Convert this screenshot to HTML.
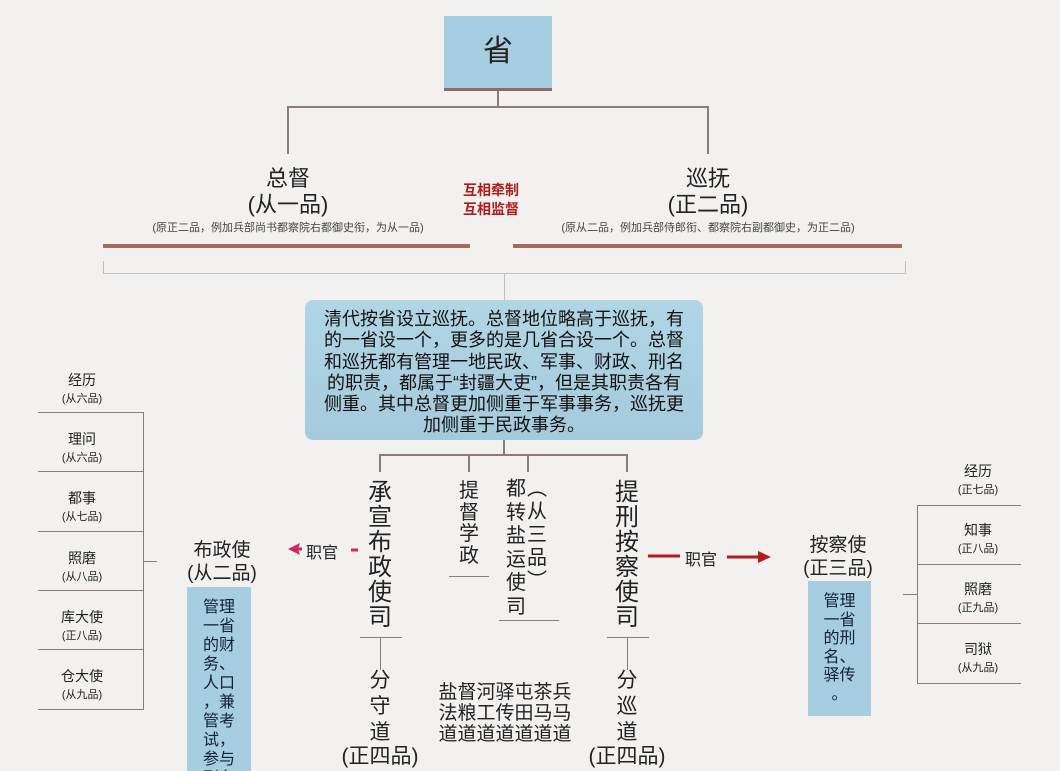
<!DOCTYPE html>
<html style="width:1060px;height:771px;overflow:hidden"><head><meta charset="utf-8"><style>
body{margin:0;width:1060px;height:771px;overflow:hidden;background:#f2f1f0;position:relative;font-family:"Liberation Sans","Noto Sans CJK SC",sans-serif;color:#222}
.a{position:absolute}
.l{position:absolute;background:#8c7c78}
.t{position:absolute;text-align:center;white-space:nowrap}
.v{position:absolute;text-align:center;width:30px}
</style></head><body>
<div class="a" style="left:444px;top:16px;width:108px;height:72px;background:#a6cde0;border-bottom:3px solid #8e6a66"></div>
<div class="t" style="left:444px;top:32px;width:108px;font-size:30px;line-height:40px">省</div>
<div class="l" style="left:497px;top:91px;width:2px;height:16px"></div>
<div class="l" style="left:287px;top:106px;width:422px;height:2px"></div>
<div class="l" style="left:287px;top:106px;width:2px;height:48px"></div>
<div class="l" style="left:707px;top:106px;width:2px;height:48px"></div>

<div class="t" style="left:188px;top:166px;width:200px;font-size:22px;line-height:26px">总督<br>(从一品)</div>
<div class="t" style="left:108px;top:219px;width:360px;font-size:11px;color:#444">(原正二品，例加兵部尚书都察院右都御史衔，为从一品)</div>
<div class="t" style="left:608px;top:166px;width:200px;font-size:22px;line-height:26px">巡抚<br>(正二品)</div>
<div class="t" style="left:518px;top:219px;width:380px;font-size:11px;color:#444">(原从二品，例加兵部侍郎衔、都察院右副都御史，为正二品)</div>
<div class="t" style="left:441px;top:181px;width:100px;font-size:14px;line-height:19px;color:#b01a1a;font-weight:bold">互相牵制<br>互相监督</div>
<div class="a" style="left:103px;top:244px;width:367px;height:4px;background:#a56a60"></div>
<div class="a" style="left:513px;top:244px;width:389px;height:4px;background:#a56a60"></div>
<div class="a" style="left:103px;top:273px;width:802px;height:1px;background:#b8c0c8"></div>
<div class="a" style="left:103px;top:261px;width:1px;height:13px;background:#b8c0c8"></div>
<div class="a" style="left:905px;top:261px;width:1px;height:13px;background:#b8c0c8"></div>
<div class="a" style="left:504px;top:273px;width:1px;height:28px;background:#b8c0c8"></div>

<div class="a" style="left:305px;top:300px;width:398px;height:140px;border-radius:8px;background:linear-gradient(#b0d6e6,#a4cadc)"></div>
<div class="t" style="left:305px;top:309px;width:398px;font-size:18px;line-height:21.3px;color:#111">清代按省设立巡抚。总督地位略高于巡抚，有<br>的一省设一个，更多的是几省合设一个。总督<br>和巡抚都有管理一地民政、军事、财政、刑名<br>的职责，都属于“封疆大吏”，但是其职责各有<br>侧重。其中总督更加侧重于军事事务，巡抚更<br>加侧重于民政事务。</div>

<div class="l" style="left:503px;top:440px;width:2px;height:15px"></div>
<div class="l" style="left:380px;top:454px;width:248px;height:2px"></div>
<div class="l" style="left:379px;top:454px;width:2px;height:18px"></div>
<div class="l" style="left:468px;top:454px;width:2px;height:18px"></div>
<div class="l" style="left:527px;top:454px;width:2px;height:18px"></div>
<div class="l" style="left:626px;top:454px;width:2px;height:18px"></div>

<div class="v" style="left:365px;top:480px;font-size:24px;line-height:25px">承<br>宣<br>布<br>政<br>使<br>司</div>
<div class="v" style="left:454px;top:481px;font-size:20px;line-height:21.5px">提<br>督<br>学<br>政</div>
<div class="l" style="left:449px;top:576px;width:40px;height:1px"></div>
<div class="v" style="left:501px;top:478px;font-size:20px;line-height:23.6px">都<br>转<br>盐<br>运<br>使<br>司</div>
<div class="v" style="left:522px;top:478px;font-size:20px;line-height:23px">︵<br>从<br>三<br>品<br>︶</div>
<div class="l" style="left:499px;top:620px;width:60px;height:1px"></div>
<div class="v" style="left:612px;top:480px;font-size:24px;line-height:25px">提<br>刑<br>按<br>察<br>使<br>司</div>

<div class="l" style="left:360px;top:637px;width:42px;height:1px"></div>
<div class="l" style="left:380px;top:637px;width:1px;height:33px"></div>
<div class="l" style="left:607px;top:637px;width:42px;height:1px"></div>
<div class="l" style="left:627px;top:637px;width:1px;height:33px"></div>
<div class="v" style="left:365px;top:668px;font-size:21px;line-height:26px">分<br>守<br>道</div>
<div class="t" style="left:330px;top:744px;width:100px;font-size:21px;line-height:26px">(正四品)<br><span style="font-size:14px">分管民政</span></div>
<div class="v" style="left:612px;top:668px;font-size:21px;line-height:26px">分<br>巡<br>道</div>
<div class="t" style="left:577px;top:744px;width:100px;font-size:21px;line-height:26px">(正四品)<br><span style="font-size:14px">分管刑名</span></div>
<div class="t" style="left:430px;top:682px;width:150px;font-size:19px;line-height:21px">盐督河驿屯茶兵<br>法粮工传田马马<br>道道道道道道道</div>

<svg class="a" style="left:0;top:0" width="1060" height="771">
<polygon points="288,549 300,543 298,549 300,555" fill="#d6245e"/>
<line x1="297" y1="549" x2="302" y2="549" stroke="#d6245e" stroke-width="3"/>
<line x1="351" y1="550" x2="358" y2="550" stroke="#d6245e" stroke-width="3"/>
<line x1="648" y1="556" x2="680" y2="556" stroke="#b51c1c" stroke-width="3"/>
<line x1="727" y1="557" x2="760" y2="557" stroke="#b51c1c" stroke-width="3"/>
<polygon points="771,557 758,551 758,563" fill="#b51c1c"/>
</svg>
<div class="t" style="left:306px;top:539px;font-size:16px">职官</div>
<div class="t" style="left:685px;top:546px;font-size:16px">职官</div>

<div class="t" style="left:172px;top:539px;width:100px;font-size:19px;line-height:23px">布政使<br>(从二品)</div>
<div class="a" style="left:187px;top:587px;width:64px;height:190px;background:#a6cde0"></div>
<div class="t" style="left:187px;top:598px;width:64px;font-size:16px;line-height:19px;color:#123">管理<br>一省<br>的财<br>务、<br>人口<br>，兼<br>管考<br>试，<br>参与<br>刑名</div>
<div class="t" style="left:788px;top:534px;width:100px;font-size:19px;line-height:23px">按察使<br>(正三品)</div>
<div class="a" style="left:808px;top:581px;width:63px;height:135px;background:#a6cde0"></div>
<div class="t" style="left:808px;top:593px;width:63px;font-size:16px;line-height:18.5px;color:#123">管理<br>一省<br>的刑<br>名、<br>驿传<br>。</div>

<div class="l" style="left:38px;top:412px;width:106px;height:1px"></div>
<div class="l" style="left:38px;top:471px;width:106px;height:1px"></div>
<div class="l" style="left:38px;top:531px;width:106px;height:1px"></div>
<div class="l" style="left:38px;top:590px;width:106px;height:1px"></div>
<div class="l" style="left:38px;top:649px;width:106px;height:1px"></div>
<div class="l" style="left:38px;top:709px;width:106px;height:1px"></div>
<div class="l" style="left:143px;top:412px;width:1px;height:298px"></div>
<div class="l" style="left:143px;top:561px;width:14px;height:1px"></div>
<div class="t" style="left:32px;top:372px;width:100px;font-size:14px;line-height:17px">经历<br><span style="font-size:11px">(从六品)</span></div>
<div class="t" style="left:32px;top:431px;width:100px;font-size:14px;line-height:17px">理问<br><span style="font-size:11px">(从六品)</span></div>
<div class="t" style="left:32px;top:490px;width:100px;font-size:14px;line-height:17px">都事<br><span style="font-size:11px">(从七品)</span></div>
<div class="t" style="left:32px;top:550px;width:100px;font-size:14px;line-height:17px">照磨<br><span style="font-size:11px">(从八品)</span></div>
<div class="t" style="left:32px;top:609px;width:100px;font-size:14px;line-height:17px">库大使<br><span style="font-size:11px">(正八品)</span></div>
<div class="t" style="left:32px;top:668px;width:100px;font-size:14px;line-height:17px">仓大使<br><span style="font-size:11px">(从九品)</span></div>

<div class="l" style="left:917px;top:505px;width:104px;height:1px"></div>
<div class="l" style="left:917px;top:564px;width:104px;height:1px"></div>
<div class="l" style="left:917px;top:623px;width:104px;height:1px"></div>
<div class="l" style="left:917px;top:683px;width:104px;height:1px"></div>
<div class="l" style="left:917px;top:505px;width:1px;height:179px"></div>
<div class="l" style="left:903px;top:594px;width:14px;height:1px"></div>
<div class="t" style="left:928px;top:463px;width:100px;font-size:14px;line-height:17px">经历<br><span style="font-size:11px">(正七品)</span></div>
<div class="t" style="left:928px;top:522px;width:100px;font-size:14px;line-height:17px">知事<br><span style="font-size:11px">(正八品)</span></div>
<div class="t" style="left:928px;top:581px;width:100px;font-size:14px;line-height:17px">照磨<br><span style="font-size:11px">(正九品)</span></div>
<div class="t" style="left:928px;top:641px;width:100px;font-size:14px;line-height:17px">司狱<br><span style="font-size:11px">(从九品)</span></div>
</body></html>
